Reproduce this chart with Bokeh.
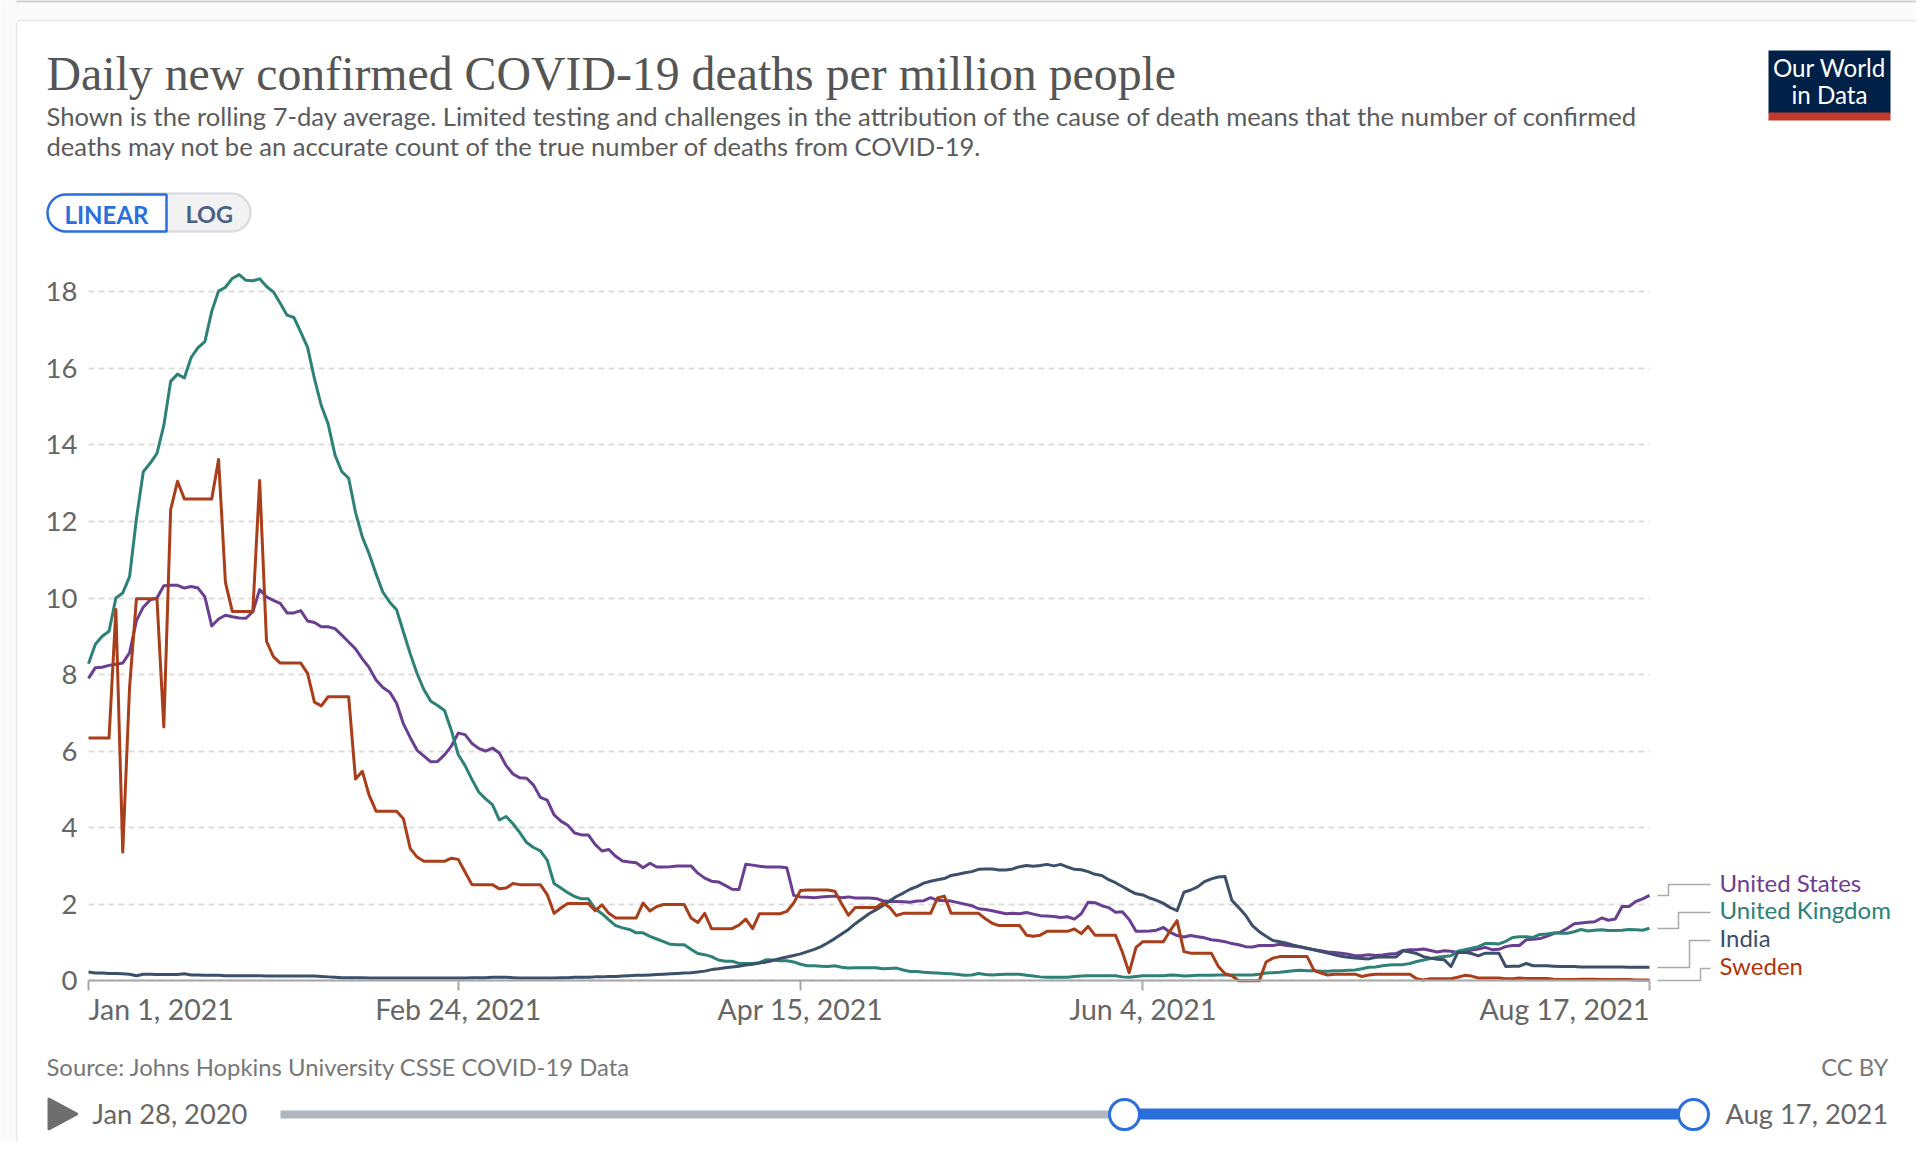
from bokeh.plotting import figure
from bokeh.embed import file_html
from bokeh.resources import INLINE
from bokeh.core.properties import value
from bokeh.models import Range1d, FixedTicker, BoxAnnotation, PolyAnnotation

# ---- data: one value per day, 1 Jan 2021 (day 0) to 17 Aug 2021 (day 228) ----
sweden = [
 6.34,6.34,6.34,6.34,9.70,3.36,7.67,9.98,9.98,9.98,
 9.98,6.63,12.31,13.05,12.59,12.59,12.59,12.59,12.59,13.62,
 10.41,9.65,9.65,9.65,9.65,13.07,8.87,8.47,8.30,8.30,
 8.30,8.30,8.03,7.28,7.18,7.42,7.42,7.42,7.42,5.27,
 5.47,4.84,4.43,4.43,4.43,4.43,4.23,3.45,3.23,3.12,
 3.12,3.12,3.12,3.20,3.17,2.84,2.51,2.51,2.51,2.51,
 2.40,2.42,2.54,2.51,2.51,2.51,2.51,2.25,1.76,1.90,
 2.02,2.02,2.02,2.02,1.83,1.98,1.76,1.64,1.64,1.64,
 1.64,2.03,1.82,1.94,1.99,1.99,1.99,1.99,1.64,1.52,
 1.76,1.36,1.36,1.36,1.36,1.45,1.61,1.36,1.75,1.75,
 1.75,1.75,1.81,2.03,2.36,2.37,2.37,2.37,2.37,2.34,
 2.01,1.71,1.91,1.91,1.91,1.91,2.03,1.92,1.70,1.76,
 1.76,1.76,1.76,1.76,2.16,2.21,1.76,1.76,1.76,1.76,
 1.76,1.62,1.50,1.44,1.44,1.44,1.44,1.19,1.16,1.19,
 1.29,1.29,1.29,1.29,1.35,1.23,1.42,1.19,1.19,1.19,
 1.19,0.75,0.21,0.87,1.02,1.02,1.02,1.02,1.31,1.57,
 0.76,0.72,0.72,0.72,0.72,0.38,0.18,0.13,0.00,0.00,
 0.00,0.00,0.49,0.59,0.63,0.63,0.63,0.63,0.63,0.27,
 0.20,0.15,0.17,0.17,0.17,0.17,0.11,0.15,0.17,0.17,
 0.17,0.17,0.17,0.17,0.05,0.02,0.05,0.05,0.05,0.05,
 0.09,0.14,0.12,0.07,0.07,0.07,0.07,0.05,0.05,0.07,
 0.06,0.06,0.06,0.06,0.04,0.03,0.03,0.03,0.04,0.04,
 0.04,0.03,0.03,0.03,0.03,0.03,0.02,0.02,0.02,
]
united_kingdom = [
 8.28,8.79,9.00,9.13,10.00,10.13,10.56,12.07,13.30,13.52,
 13.78,14.51,15.66,15.85,15.75,16.29,16.54,16.70,17.49,18.02,
 18.12,18.35,18.45,18.30,18.29,18.34,18.14,18.00,17.70,17.39,
 17.33,16.95,16.55,15.73,15.03,14.55,13.74,13.30,13.13,12.24,
 11.59,11.15,10.63,10.15,9.89,9.69,9.11,8.54,8.02,7.60,
 7.30,7.19,7.06,6.54,5.91,5.62,5.26,4.93,4.75,4.60,
 4.20,4.29,4.10,3.87,3.61,3.48,3.39,3.15,2.54,2.42,
 2.30,2.20,2.14,2.14,1.88,1.75,1.59,1.44,1.38,1.34,
 1.25,1.25,1.16,1.09,1.02,0.95,0.94,0.94,0.82,0.71,
 0.68,0.63,0.54,0.51,0.51,0.45,0.45,0.45,0.47,0.55,
 0.54,0.52,0.52,0.49,0.43,0.39,0.39,0.38,0.37,0.39,
 0.35,0.33,0.34,0.34,0.34,0.34,0.31,0.32,0.33,0.28,
 0.24,0.24,0.22,0.21,0.20,0.19,0.18,0.16,0.14,0.15,
 0.19,0.16,0.15,0.16,0.17,0.17,0.17,0.14,0.12,0.10,
 0.09,0.09,0.09,0.09,0.11,0.12,0.13,0.13,0.13,0.13,
 0.13,0.10,0.09,0.11,0.13,0.13,0.13,0.13,0.15,0.14,
 0.12,0.13,0.14,0.14,0.14,0.15,0.15,0.15,0.15,0.15,
 0.15,0.17,0.20,0.21,0.22,0.24,0.26,0.27,0.26,0.26,
 0.25,0.25,0.26,0.26,0.27,0.28,0.31,0.35,0.36,0.39,
 0.41,0.42,0.42,0.45,0.50,0.54,0.58,0.61,0.63,0.65,
 0.77,0.81,0.85,0.89,0.97,0.97,0.96,1.03,1.13,1.15,
 1.15,1.13,1.21,1.22,1.25,1.24,1.24,1.28,1.34,1.30,
 1.32,1.33,1.31,1.31,1.32,1.34,1.33,1.32,1.37,
]
united_states = [
 7.90,8.18,8.19,8.24,8.27,8.30,8.57,9.41,9.76,9.95,
 10.00,10.32,10.33,10.33,10.26,10.30,10.26,10.03,9.27,9.45,
 9.55,9.51,9.48,9.47,9.64,10.22,10.03,9.94,9.86,9.61,
 9.61,9.67,9.40,9.36,9.25,9.25,9.20,9.03,8.85,8.67,
 8.41,8.18,7.86,7.66,7.54,7.25,6.71,6.35,6.02,5.87,
 5.72,5.73,5.90,6.13,6.47,6.43,6.20,6.07,6.00,6.08,
 5.95,5.62,5.40,5.30,5.29,5.11,4.79,4.72,4.33,4.17,
 4.06,3.86,3.81,3.81,3.56,3.39,3.43,3.25,3.13,3.10,
 3.08,2.95,3.07,2.97,2.97,2.98,3.00,3.00,3.00,2.81,
 2.68,2.60,2.58,2.49,2.39,2.38,3.04,3.02,2.99,2.97,
 2.97,2.97,2.95,2.23,2.19,2.18,2.17,2.19,2.20,2.21,
 2.17,2.19,2.16,2.16,2.16,2.15,2.09,2.07,2.07,2.06,
 2.05,2.08,2.09,2.17,2.10,2.09,2.08,2.04,2.00,1.96,
 1.88,1.86,1.83,1.79,1.75,1.76,1.75,1.78,1.74,1.70,
 1.69,1.68,1.65,1.67,1.61,1.75,2.05,2.04,1.96,1.91,
 1.79,1.80,1.60,1.29,1.29,1.30,1.32,1.39,1.26,1.18,
 1.14,1.18,1.15,1.12,1.07,1.05,1.02,0.97,0.94,0.89,
 0.88,0.92,0.92,0.92,0.95,0.92,0.90,0.88,0.84,0.81,
 0.78,0.75,0.74,0.72,0.69,0.65,0.66,0.68,0.66,0.67,
 0.70,0.71,0.79,0.81,0.81,0.83,0.79,0.75,0.78,0.77,
 0.74,0.74,0.80,0.83,0.87,0.81,0.82,0.89,0.92,0.92,
 1.07,1.08,1.10,1.16,1.23,1.27,1.37,1.49,1.51,1.53,
 1.54,1.64,1.58,1.61,1.94,1.94,2.07,2.14,2.23,
]
india = [
 0.23,0.20,0.20,0.19,0.19,0.18,0.17,0.13,0.17,0.17,
 0.16,0.16,0.16,0.16,0.18,0.15,0.15,0.14,0.14,0.14,
 0.13,0.13,0.13,0.13,0.13,0.13,0.12,0.12,0.12,0.12,
 0.12,0.12,0.12,0.12,0.11,0.10,0.09,0.08,0.08,0.08,
 0.08,0.07,0.07,0.07,0.07,0.07,0.07,0.07,0.07,0.07,
 0.07,0.07,0.07,0.07,0.07,0.07,0.08,0.08,0.08,0.09,
 0.09,0.09,0.08,0.07,0.07,0.07,0.07,0.07,0.07,0.08,
 0.08,0.09,0.09,0.09,0.10,0.10,0.11,0.11,0.12,0.13,
 0.14,0.14,0.15,0.16,0.17,0.18,0.19,0.20,0.21,0.23,
 0.25,0.29,0.31,0.34,0.36,0.38,0.41,0.43,0.46,0.49,
 0.53,0.58,0.62,0.66,0.70,0.76,0.82,0.89,0.99,1.10,
 1.22,1.34,1.49,1.62,1.75,1.85,1.96,2.08,2.20,2.29,
 2.39,2.46,2.55,2.60,2.64,2.67,2.75,2.78,2.82,2.85,
 2.91,2.92,2.92,2.89,2.89,2.92,2.98,3.01,2.99,3.01,
 3.04,3.00,3.04,2.97,2.91,2.90,2.85,2.78,2.75,2.64,
 2.56,2.46,2.36,2.27,2.24,2.16,2.10,2.02,1.91,1.83,
 2.31,2.37,2.45,2.59,2.66,2.71,2.72,2.10,1.91,1.71,
 1.44,1.28,1.16,1.05,1.02,0.98,0.93,0.89,0.85,0.81,
 0.76,0.72,0.68,0.64,0.61,0.59,0.58,0.57,0.61,0.62,
 0.62,0.62,0.78,0.75,0.71,0.63,0.59,0.56,0.55,0.37,
 0.74,0.74,0.71,0.65,0.72,0.72,0.72,0.37,0.38,0.38,
 0.45,0.39,0.39,0.39,0.38,0.37,0.37,0.37,0.36,0.36,
 0.36,0.36,0.36,0.36,0.36,0.35,0.35,0.35,0.35,
]
day = list(range(len(india)))
tick_days = [0, 54, 104, 154, 228]
tick_labels = ["Jan 1, 2021", "Feb 24, 2021", "Apr 15, 2021", "Jun 4, 2021", "Aug 17, 2021"]
y_ticks = [0, 2, 4, 6, 8, 10, 12, 14, 16, 18]
series_names = ["United States", "United Kingdom", "India", "Sweden"]
series_values = [united_states, united_kingdom, india, sweden]
series_colors = ["#6A3F91", "#2E8177", "#3C4F6B", "#A83E1A"]
label_colors = ["#6D3E91", "#2A8178", "#3C4E66", "#B13507"]

assert all(len(s) == 229 for s in series_values), [len(s) for s in series_values]

# ---- geometry, in pixels of the picture ----
W, H = 1916, 1142
X0, X228 = 88.0, 1649.0         # pixel of day 0 and of day 228
Y0, PX_PER_UNIT = 980.2, 38.27  # pixel of value 0, pixels per unit
PX_PER_DAY = (X228 - X0) / 228


def dx(X):
    return (X - X0) / PX_PER_DAY


def dy(Y):
    return (Y0 - Y) / PX_PER_UNIT


p = figure(
    width=W, height=H, output_backend="svg", toolbar_location=None,
    x_range=Range1d(dx(0), dx(W)), y_range=Range1d(dy(H), dy(0)),
    min_border=0, background_fill_color="#FAFAFA", border_fill_color="#FAFAFA",
    outline_line_color=None,
)


def text(X, Y, s, size, color, font="Lato", align="left", style="normal"):
    # the baseline lands lower than asked in proportion to the font size
    lift = 0.3 * size + 3
    p.text(x=[dx(X)], y=[dy(Y - lift)], text=[s], text_font=value(font),
           text_font_size=value(f"{size}px"), text_color=color,
           text_align=align, text_baseline="alphabetic", text_font_style=style)


def box(x0, y0, x1, y1, fill, line=None, lw=0, radius=0, alpha=1.0):
    p.add_layout(BoxAnnotation(left=dx(x0), right=dx(x1), top=dy(y0), bottom=dy(y1),
                               fill_color=fill, fill_alpha=alpha, line_color=line, line_alpha=1,
                               line_width=lw, border_radius=radius, level="image",
                               editable=False))


# card
box(16, -6, 1920, 2, "#D2D2D2")
box(16, 20, 1920, 1200, "#FFFFFF", "#E8E8E8", 1.5, radius=4)

# axes
xa = p.xaxis[0]
xa.ticker = FixedTicker(ticks=tick_days)
xa.major_label_overrides = {d: (l if 0 < i < len(tick_days) - 1 else " ")
                            for i, (d, l) in enumerate(zip(tick_days, tick_labels))}
xa.fixed_location = 0
xa.bounds = (0, 228)
xa.axis_line_color = "#A8A8A8"
xa.axis_line_width = 2
xa.major_tick_line_color = "#A8A8A8"
xa.major_tick_line_width = 2
xa.major_tick_out = 10
xa.major_tick_in = 0
xa.minor_tick_line_color = None
xa.major_label_text_font = "Lato"
xa.major_label_text_font_size = "28.5px"
xa.major_label_text_color = "#666666"
xa.major_label_standoff = 1

ya = p.yaxis[0]
ya.ticker = FixedTicker(ticks=y_ticks)
ya.fixed_location = 0
ya.bounds = (0, 18)
ya.axis_line_color = None
ya.major_tick_line_color = None
ya.minor_tick_line_color = None
ya.major_tick_out = 0
ya.major_tick_in = 0
ya.major_label_text_font = "Lato"
ya.major_label_text_font_size = "27.5px"
ya.major_label_text_color = "#666666"
ya.major_label_standoff = 11

p.xgrid.visible = False
p.ygrid.cross_bounds = (0, 228)
p.ygrid.grid_line_color = "#DDDDDD"
p.ygrid.grid_line_width = 2
p.ygrid.grid_line_dash = "6 4"

# series
for vals, col, name in zip(series_values, series_colors, series_names):
    p.line(day, vals, line_color=col, line_width=3, line_join="round", name=name)

# first and last tick labels hang inside the axis span
text(88, 1020.5, tick_labels[0], 28.5, "#666666")
text(1649, 1020.5, tick_labels[-1], 28.5, "#666666", align="right")

# titles
text(46, 90, "Daily new confirmed COVID-19 deaths per million people", 47.8, "#555555", font="Liberation Serif")
sub1 = ("Shown is the rolling 7-day average. Limited testing and challenges in the attribution "
        "of the cause of death means that the number of confirmed")
sub2 = "deaths may not be an accurate count of the true number of deaths from COVID-19."
text(46, 126, sub1, 25.6, "#5B5B5B")
text(46, 156, sub2, 25.6, "#5B5B5B")

# linear / log switch
box(120, 193, 250, 231, "#F2F2F2", "#DADDE2", 2.5, radius=dict(top_left=0, top_right=19, bottom_right=19, bottom_left=0))
box(47, 194, 166, 231, "#FFFFFF", "#2A6FDB", 2.5, radius=dict(top_left=19, top_right=0, bottom_right=0, bottom_left=19))
text(64, 224, "LINEAR", 24, "#2A6FDB", style="bold")
text(185, 224, "LOG", 23.5, "#4C5F85", style="bold")

# logo
box(1768, 50, 1890, 113, "#002147")
box(1768, 112, 1890, 120, "#C0392B")
text(1829, 77, "Our World", 24.2, "#FFFFFF", align="center")
text(1829, 104, "in Data", 24.2, "#FFFFFF", align="center")

# line-end labels with their connectors
end_y = [895, 928, 967, 980]
elbow_x = [1668, 1678, 1689, 1700]
label_y = [884, 912, 940, 968]
base_y = [892, 919, 947, 975]
for name, col, ey, ex, ly, by in zip(series_names, label_colors, end_y, elbow_x, label_y, base_y):
    p.line([dx(1657), dx(ex), dx(ex), dx(1710)], [dy(ey), dy(ey), dy(ly), dy(ly)],
           line_color="#AAAAAA", line_width=1.5)
    text(1719, by, name, 24, col)

# footer
text(46, 1076, "Source: Johns Hopkins University CSSE COVID-19 Data", 23.85, "#777777")
text(1888, 1076, "CC BY", 23.85, "#777777", align="right")

# timeline
p.add_layout(PolyAnnotation(xs=[dx(48), dx(77), dx(48)], ys=[dy(1098), dy(1113.5), dy(1129)],
                            fill_color="#6E6E6E", fill_alpha=1, line_alpha=1,
                            line_color="#6E6E6E", line_width=2, level="image", editable=False))
text(92, 1124, "Jan 28, 2020", 27.3, "#666666")
text(1725, 1124, "Aug 17, 2021", 27.3, "#666666")
box(280, 1110, 1125, 1118, "#AEB6BF")
box(1124, 1108, 1693, 1119, "#2A6FDB")
for cx in [1124, 1693]:
    box(cx - 15, 1101, cx + 15, 1131, "#000000", radius=15, alpha=0.18)
    box(cx - 15, 1099, cx + 15, 1129, "#FFFFFF", "#2A6FDB", 3, radius=15)

open("out.html", "w").write(file_html(p, INLINE))
